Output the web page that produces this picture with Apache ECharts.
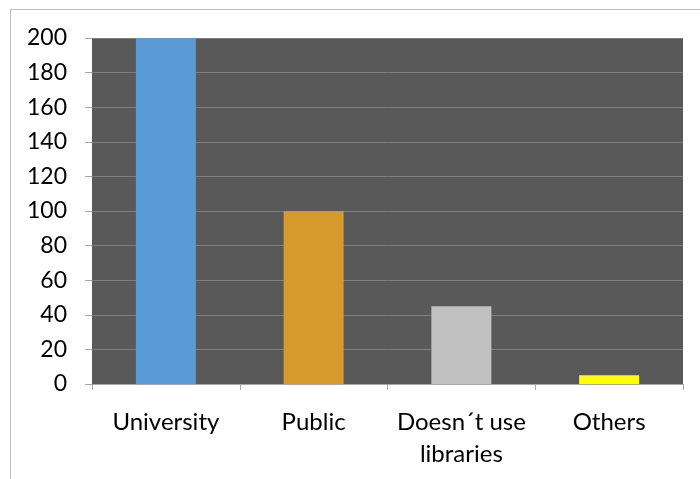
<!DOCTYPE html>
<html>
<head>
<meta charset="utf-8">
<script src="https://cdn.jsdelivr.net/npm/echarts@6/dist/echarts.min.js"></script>
<style>
  html, body { margin: 0; padding: 0; background: #ffffff; overflow: hidden; }
  #frame { position: absolute; left: 10px; top: 9px; width: 720px; height: 500px;
           border-top: 1px solid #c0c0c0; border-left: 1px solid #c0c0c0; }
  #chart { position: absolute; left: 0; top: 0; width: 700px; height: 479px; }
</style>
</head>
<body>
<div id="frame"></div>
<div id="chart"></div>
<script>
// Library type used by respondents
const categories = ['University', 'Public', 'Doesn\u00b4t use\nlibraries', 'Others'];
const counts = [200, 100, 45, 5];
const barColors = ['#5B9BD5', '#D69A2D', '#C0C0C0', '#FFFF00'];
const yTicks = { min: 0, max: 200, interval: 20 };

const fontFamily = 'Lato, "Noto Sans", sans-serif';

const chart = echarts.init(document.getElementById('chart'), null, { renderer: 'canvas' });
chart.setOption({
  animation: false,
  backgroundColor: 'transparent',
  grid: {
    left: 92, right: 17, top: 38, bottom: 95,
    show: true, backgroundColor: '#595959', borderWidth: 0
  },
  xAxis: {
    type: 'category',
    data: categories,
    axisLine: { lineStyle: { color: '#a6a6a6', width: 1 } },
    axisTick: { show: true, length: 6, alignWithLabel: false, lineStyle: { color: '#a6a6a6' } },
    axisLabel: {
      color: '#000000', fontFamily: fontFamily, fontSize: 24,
      lineHeight: 32, margin: 22, interval: 0
    }
  },
  yAxis: {
    type: 'value',
    min: yTicks.min, max: yTicks.max, interval: yTicks.interval,
    axisLine: { show: false },
    axisTick: { show: true, length: 7, lineStyle: { color: '#a6a6a6' } },
    axisLabel: { color: '#000000', fontFamily: fontFamily, fontSize: 23, margin: 25 },
    splitLine: { lineStyle: { color: '#7f7f7f', width: 1 } }
  },
  series: [{
    type: 'bar',
    data: counts.map((v, i) => ({ value: v, itemStyle: { color: barColors[i] } })),
    barWidth: 60
  }]
});
</script>
</body>
</html>
